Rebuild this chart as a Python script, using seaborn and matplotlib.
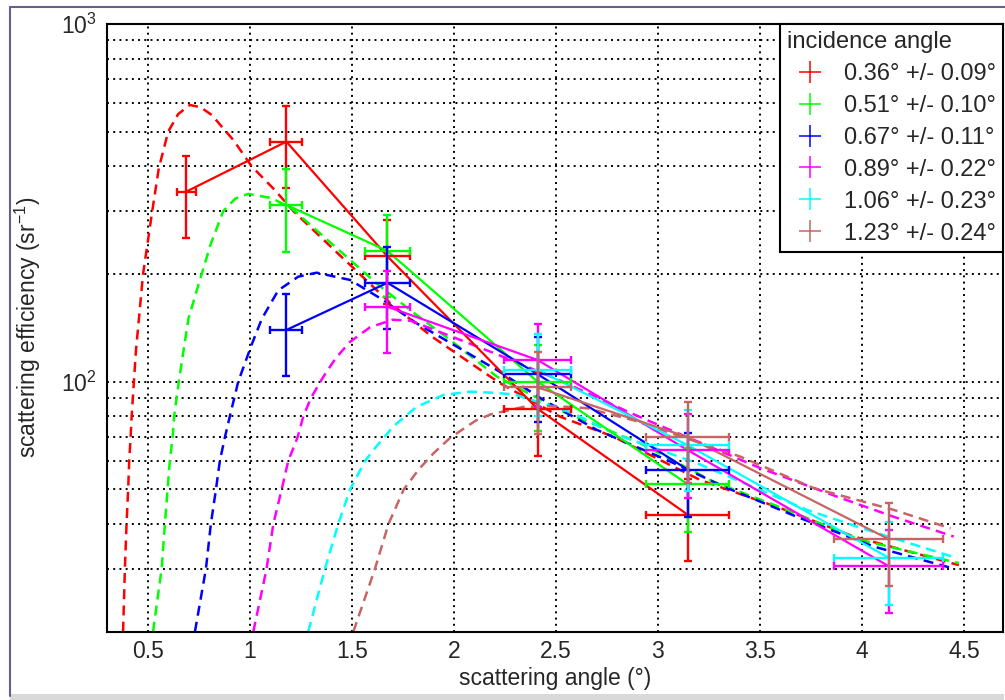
import numpy as np
import pandas as pd
import matplotlib
matplotlib.use('Agg')
import matplotlib.pyplot as plt
import seaborn as sns
from matplotlib.lines import Line2D
from matplotlib.patches import Rectangle
from matplotlib.ticker import MultipleLocator, LogLocator, NullFormatter

sns.set_style('white')
plt.rcParams['font.family'] = ['Liberation Sans', 'DejaVu Sans']
plt.rcParams['mathtext.fontset'] = 'custom'
plt.rcParams['mathtext.rm'] = 'Liberation Sans'
plt.rcParams['mathtext.it'] = 'Liberation Sans:italic'

nan = np.nan

# series labels and colours (incidence angle)
labels = ['0.36° +/- 0.09°', '0.51° +/- 0.10°', '0.67° +/- 0.11°',
          '0.89° +/- 0.22°', '1.06° +/- 0.23°', '1.23° +/- 0.24°']
colors = ['#ff0000', '#00ff00', '#0000ff', '#ff00ff', '#00ffff', '#c86464']

# measured scattering angle bins
pos = [0.69, 1.18, 1.675, 2.41, 3.145, 4.13]
pos_err = [0.047, 0.078, 0.11, 0.163, 0.205, 0.268]

# measured efficiency and error per incidence angle
eff_036 = [340, 469, 224, 84, 42.5, nan]
err_036 = [88, 121, 59, 22, 11, nan]
eff_051 = [nan, 312, 232, 100, 51.7, nan]
err_051 = [nan, 81, 60, 27, 13.6, nan]
eff_067 = [nan, 139.5, 189, 105, 56.8, nan]
err_067 = [nan, 36, 49, 28, 15, nan]
eff_089 = [nan, nan, 162, 115, 64.4, 30.5]
err_089 = [nan, nan, 42, 30, 17, 8]
eff_106 = [nan, nan, nan, 108, 66.5, 32.2]
err_106 = [nan, nan, nan, 28, 17, 8.4]
eff_123 = [nan, nan, nan, 96.4, 70, 36.3]
err_123 = [nan, nan, nan, 25, 18, 9.5]

# model curves (dashed)
m036_x = [0.380, 0.389, 0.397, 0.405, 0.410, 0.417, 0.422, 0.433, 0.443, 0.478, 0.523, 0.555, 0.601,
          0.650, 0.707, 0.760, 0.814, 0.920, 1.010, 1.124, 1.214, 1.444, 1.508, 1.688, 1.890, 2.129,
          2.227, 2.521, 2.782, 2.913, 3.207, 3.600, 3.959, 4.474]
m036_y = [20, 30, 40, 50, 60, 70, 80, 100, 122, 200, 300, 395, 500,
          560, 594, 585, 557, 474, 400, 343, 300, 225, 208, 166, 134, 108,
          99, 79.8, 70.2, 64.4, 53.1, 44.3, 36.9, 30.7]
m051_x = [0.527, 0.569, 0.585, 0.598, 0.609, 0.623, 0.630, 0.653, 0.700, 0.765, 0.810, 0.871, 0.930,
          0.993, 1.108, 1.206, 1.271, 1.492, 1.623, 1.786, 1.982, 2.211, 2.537, 2.913, 3.273, 3.633,
          3.992, 4.474]
m051_y = [20, 30, 40, 50, 60, 70, 80, 100, 150, 200, 243, 300, 325,
          335, 326, 305, 283, 219, 188, 158.6, 130.8, 103.3, 82.4, 67.3, 52.5, 43.8,
          36.1, 31.1]
m067_x = [0.732, 0.786, 0.810, 0.835, 0.854, 0.879, 0.903, 0.944, 1.010, 1.060, 1.140, 1.238, 1.328,
          1.492, 1.655, 1.817, 2.015, 2.211, 2.439, 2.701, 3.044, 3.322, 3.681, 4.057, 4.441]
m067_y = [20, 30, 40, 50, 60, 70, 80, 100, 127, 150, 180, 196.6, 201.7,
          192.5, 169, 145.7, 125.3, 107.8, 88.9, 73.3, 60.4, 50.9, 41.9, 34.6, 30.1]
m089_x = [1.018, 1.083, 1.116, 1.157, 1.189, 1.235, 1.263, 1.300, 1.360, 1.420, 1.490, 1.590, 1.700,
          1.790, 2.000, 2.200, 2.500, 2.870, 2.960, 3.502, 3.877, 4.155, 4.449]
m089_y = [20, 30, 40, 50, 60, 70, 80, 90, 103, 116, 129, 142, 149,
          148, 133, 120, 102, 81.6, 77.5, 57.3, 47.7, 41.9, 36.9]
m106_x = [1.287, 1.369, 1.434, 1.492, 1.565, 1.606, 1.704, 1.817, 1.949, 2.079, 2.211, 2.300, 2.586,
          2.782, 3.191, 3.730, 4.025, 4.466]
m106_y = [20, 30, 40, 50, 60, 64.4, 75, 85, 91.8, 93.8, 93, 92, 81.6,
          71.7, 59.2, 43.8, 38.5, 32.1]
m123_x = [1.508, 1.614, 1.680, 1.755, 1.830, 1.900, 1.980, 2.050, 2.110, 2.180, 2.340, 2.500, 2.652,
          2.880, 3.404, 3.763, 4.155, 4.433]
m123_y = [20, 30, 40, 50, 57, 63, 69.5, 74, 78, 81, 85, 85.5, 84.3,
          78, 61.7, 50.4, 43.8, 38.9]

effs = [eff_036, eff_051, eff_067, eff_089, eff_106, eff_123]
errs = [err_036, err_051, err_067, err_089, err_106, err_123]
models = [(m036_x, m036_y), (m051_x, m051_y), (m067_x, m067_y),
          (m089_x, m089_y), (m106_x, m106_y), (m123_x, m123_y)]

rows = []
for lab, e, s in zip(labels, effs, errs):
    for p, pe, v, ve in zip(pos, pos_err, e, s):
        if not np.isnan(v):
            rows.append(dict(series=lab, angle=p, angle_err=pe, eff=v, eff_err=ve))
data = pd.DataFrame(rows)

mrows = []
for lab, (mx, my) in zip(labels, models):
    for a, b in zip(mx, my):
        mrows.append(dict(series=lab, angle=a, eff=b))
model = pd.DataFrame(mrows)

palette = dict(zip(labels, colors))

fig = plt.figure(figsize=(10.05, 7.0), dpi=100)
ax = fig.add_axes([0.1062, 0.0976, 0.8918, 0.8681])

sns.lineplot(data=model, x='angle', y='eff', hue='series', palette=palette, sort=False,
             estimator=None, lw=1.8, linestyle=(0, (4, 2.5)), legend=False, ax=ax)
sns.lineplot(data=data, x='angle', y='eff', hue='series', palette=palette, sort=False,
             estimator=None, lw=1.6, legend=False, ax=ax)
for lab in labels:
    d = data[data.series == lab]
    ax.errorbar(d.angle, d.eff, xerr=d.angle_err, yerr=d.eff_err, fmt='none',
                ecolor=palette[lab], elinewidth=1.7, capsize=2.6, capthick=1.7)

ax.set_yscale('log')
ax.set_xlim(0.3, 4.69)
ax.set_ylim(20, 1000)
ax.xaxis.set_major_locator(MultipleLocator(0.5))
ax.xaxis.set_minor_locator(MultipleLocator(0.1))
ax.yaxis.set_major_locator(LogLocator(base=10))
ax.yaxis.set_minor_locator(LogLocator(base=10, subs=np.arange(2, 10)))
ax.yaxis.set_minor_formatter(NullFormatter())
ax.xaxis.set_major_formatter(matplotlib.ticker.FuncFormatter(lambda v, p: f'{v:g}'))

ax.tick_params(axis='both', which='both', direction='in', color='black', width=1.2,
               labelsize=16.5, top=False, right=False)
ax.tick_params(axis='y', which='major', length=18, pad=7)
ax.tick_params(axis='y', which='minor', length=9)
ax.tick_params(axis='x', which='major', length=12, pad=6)
ax.tick_params(axis='x', which='minor', length=6)

ax.grid(True, which='both', axis='y', color='black', lw=1.4, linestyle=(0, (1, 2.2)))
ax.grid(True, which='major', axis='x', color='black', lw=1.4, linestyle=(0, (1, 2.2)))
for sp in ax.spines.values():
    sp.set_color('black')
    sp.set_linewidth(1.5)

ax.set_xlabel('scattering angle (°)', fontsize=16.5)
ax.set_ylabel('scattering efficiency (sr$^{-1}$)', fontsize=16.5)
ax.xaxis.set_label_coords(0.5, -0.058)
ax.yaxis.set_label_coords(-0.071, 0.5)

handles = [Line2D([], [], color=c, marker='+', markersize=16, mew=1.1, linestyle='none')
           for c in colors]
leg = ax.legend(handles, labels, title='incidence angle', loc='upper right',
                bbox_to_anchor=(1, 1), borderaxespad=0, frameon=True, fancybox=False,
                edgecolor='black', framealpha=1, fontsize=17, title_fontsize=17,
                alignment='left', labelspacing=0.42, handlelength=2.0,
                handletextpad=0.42, borderpad=0.3)
leg.get_frame().set_linewidth(1.5)

# canvas frame
fig.add_artist(Line2D([0.0095, 0.0095], [0.006, 0.99], transform=fig.transFigure,
                      color='#6a5f8c', lw=1.5))
fig.add_artist(Line2D([0.0095, 1.0], [0.99, 0.99], transform=fig.transFigure,
                      color='#6a5f8c', lw=1.5))
fig.add_artist(Rectangle((0.0095, 0.0), 0.99, 0.008, transform=fig.transFigure,
                         color='#d9d9d9', lw=0))

fig.savefig('out.png', dpi=100)
